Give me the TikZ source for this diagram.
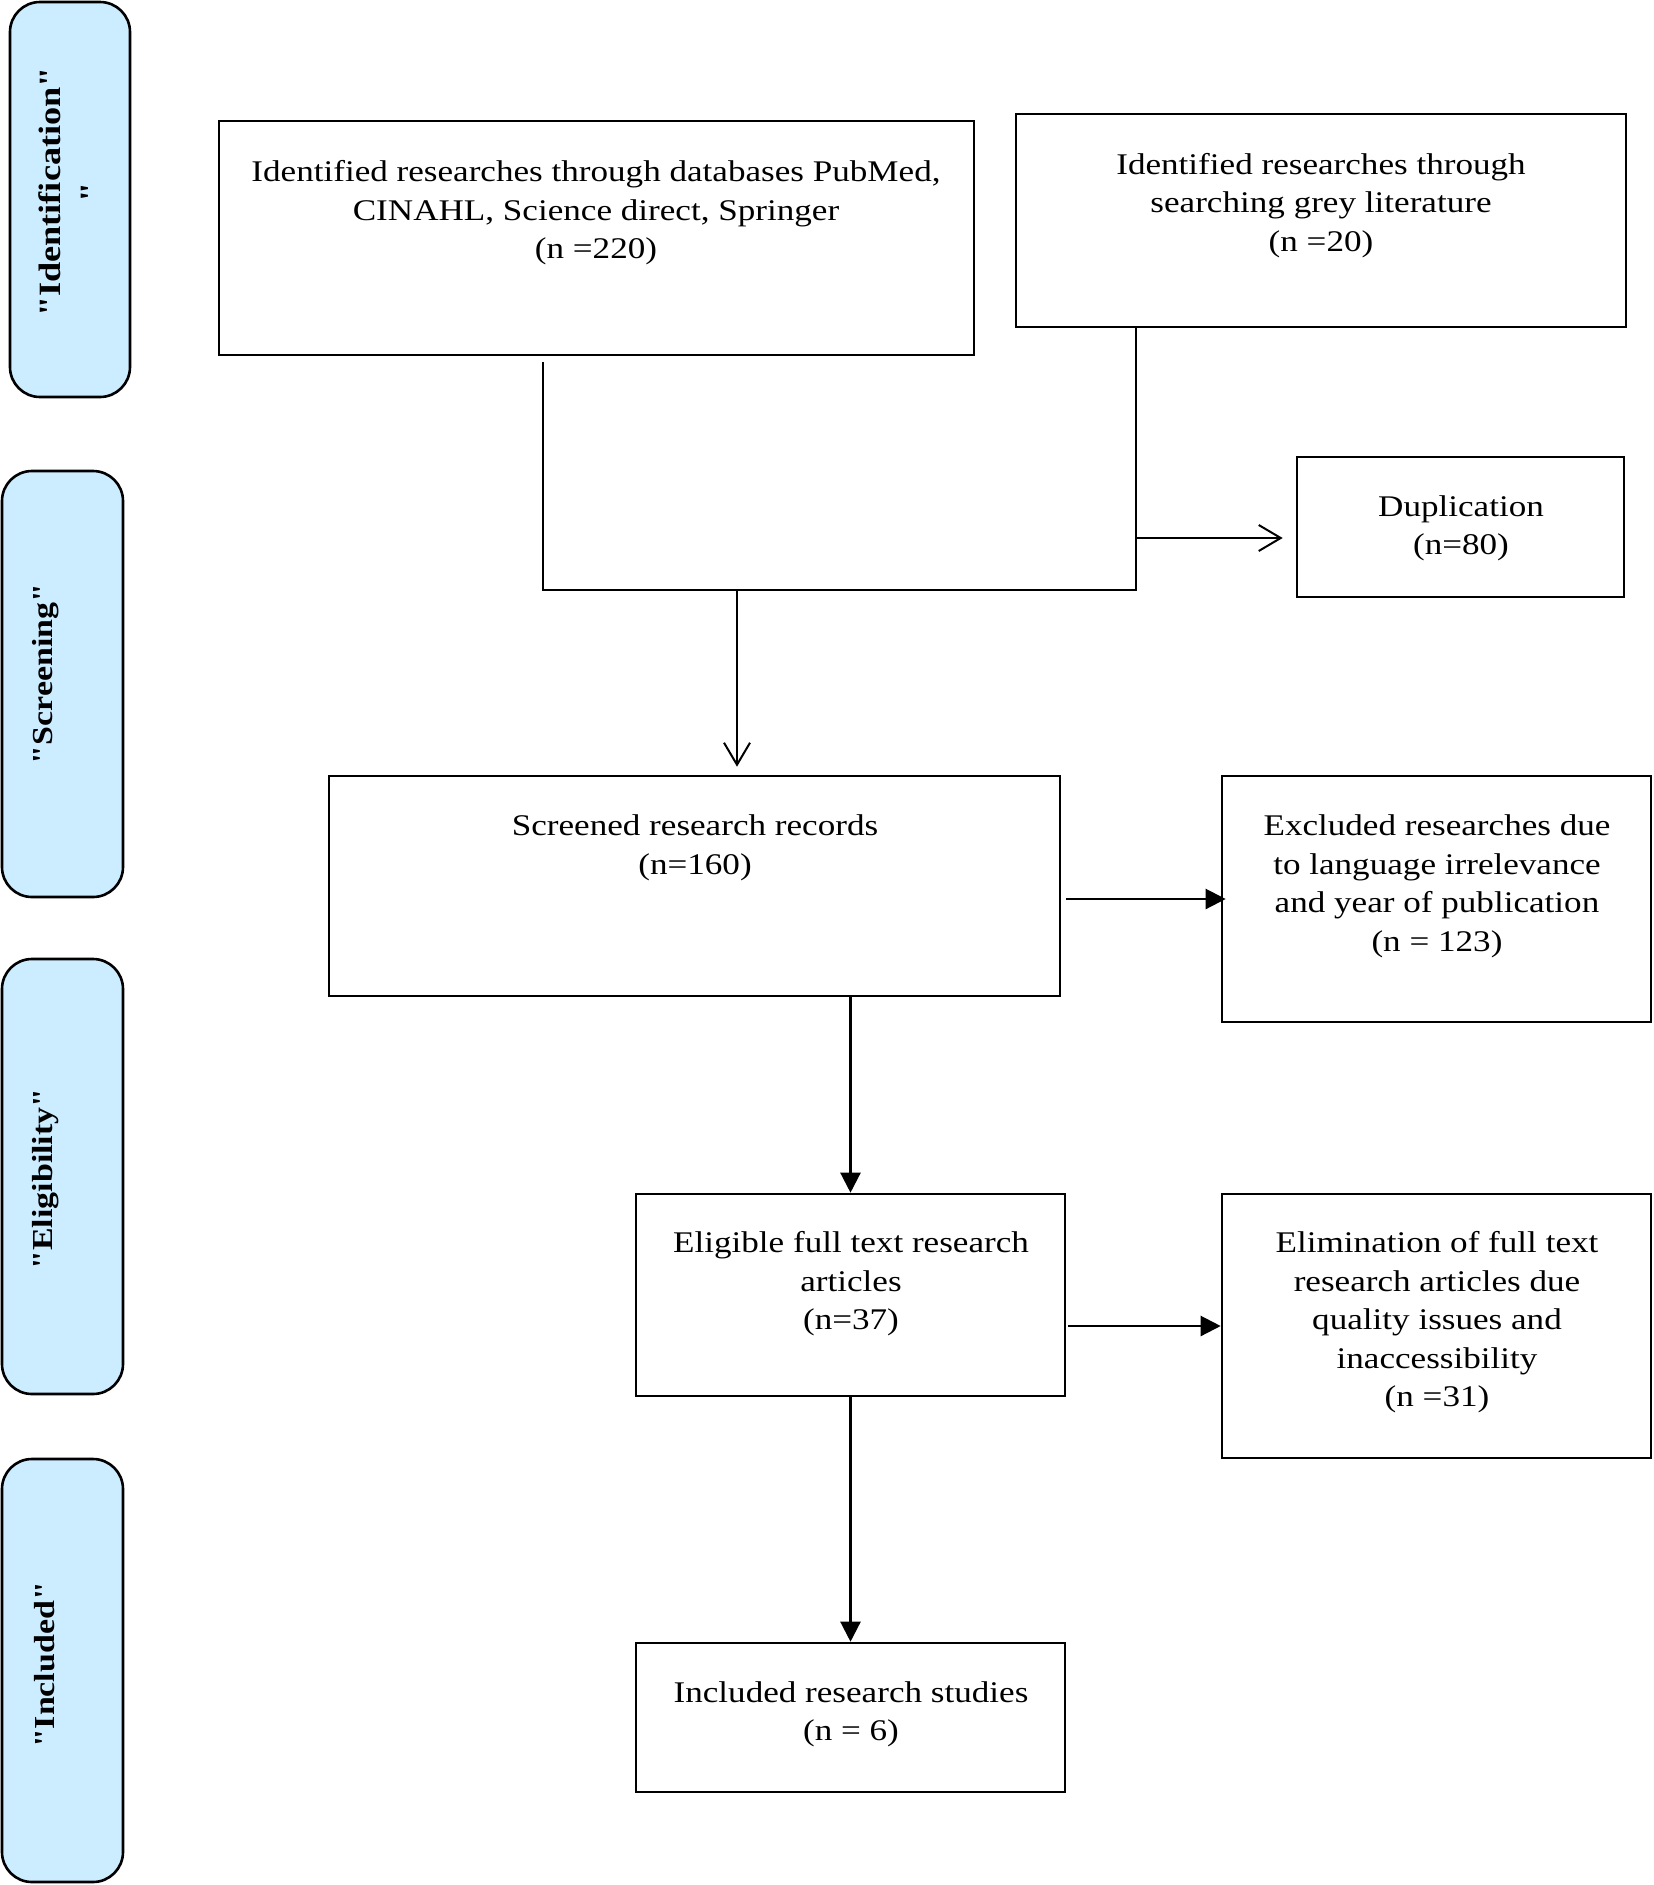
\documentclass[tikz,border=0pt]{standalone}
\usepackage{fontspec}
\setmainfont{Liberation Serif}[Ligatures=TeXOff, FakeStretch=1.17]
\usetikzlibrary{arrows.meta}
\definecolor{sidefill}{RGB}{204,236,255}
\begin{document}
\begin{tikzpicture}[x=1pt,y=-1pt,
  box/.style={draw, line width=2.6pt, inner sep=0pt},
  txt/.style={align=center, font=\fontsize{30}{38.5}\selectfont, inner sep=0pt},
  side/.style={draw, line width=2.6pt, fill=sidefill, rounded corners=30pt, inner sep=0pt},
  sidetxt/.style={rotate=90, font=\bfseries\fontsize{29}{41}\selectfont, inner sep=0pt, align=center},
  conn/.style={line width=2.3pt},
  openarr/.style={conn, -{Straight Barb[length=22pt,width=26pt,line width=2pt]}},
  solidarr/.style={conn, -{Triangle[length=20pt,width=20pt]}}]
\useasboundingbox (0,0) rectangle (1654,1885);

% side bars
\node[side, minimum width=120, minimum height=395] (s1) at (70,199.5) {};
\node[side, minimum width=121, minimum height=426] (s2) at (62.5,684) {};
\node[side, minimum width=121, minimum height=435] (s3) at (62.5,1176.5) {};
\node[side, minimum width=121, minimum height=423] (s4) at (62.5,1670.5) {};
\node[sidetxt, font=\bfseries\fontsize{31}{41}\selectfont] (l1) at (70,192) {"Identification"\\"};
\node[sidetxt] (l2) at (46,674) {"Screening"};
\node[sidetxt] (l3) at (46,1179) {"Eligibility"};
\node[sidetxt] (l4) at (45,1665) {"Included"};

% boxes
\node[box, minimum width=755, minimum height=234] (a) at (596.5,238) {};
\node[box, minimum width=610, minimum height=213] (b) at (1321,220.5) {};
\node[box, minimum width=327, minimum height=140] (dup) at (1460.5,527) {};
\node[box, minimum width=731, minimum height=220] (scr) at (694.5,886) {};
\node[box, minimum width=429, minimum height=246] (exc) at (1436.5,899) {};
\node[box, minimum width=429, minimum height=202] (eli) at (850.5,1295) {};
\node[box, minimum width=429, minimum height=264] (elim) at (1436.5,1326) {};
\node[box, minimum width=429, minimum height=149] (inc) at (850.5,1717.5) {};

% texts
\node[txt] (ta) at (596,213) {Identified researches through databases PubMed,\\CINAHL, Science direct, Springer\\(n =220)};
\node[txt] (tb) at (1321,205.5) {Identified researches through\\searching grey literature\\(n =20)};
\node[txt] (tdup) at (1461,528.5) {Duplication\\(n=80)};
\node[txt] (tscr) at (695,848) {Screened research records\\(n=160)};
\node[txt] (texc) at (1437,886.5) {Excluded researches due\\to language irrelevance\\and year of publication\\(n = 123)};
\node[txt] (teli) at (851,1284) {Eligible full text research\\articles\\(n=37)};
\node[txt] (telim) at (1437,1322.5) {Elimination of full text\\research articles due\\quality issues and\\inaccessibility\\(n =31)};
\node[txt] (tinc) at (851,1714.5) {Included research studies\\(n = 6)};

% connectors
\coordinate (j1) at (543,590);
\coordinate (j2) at (1136,590);
\coordinate (j3) at (1136,538);
\coordinate (j4) at (737,590);
\draw[conn] ([yshift=-6pt]a.south -| j1) -- (j1) -- (j2) -- (b.south -| j2);
\draw[openarr, shorten >=13pt] (j3) -- (dup.west |- j3);
\draw[openarr, shorten >=8pt] (j4) -- (scr.north -| j4);
\draw[solidarr] ([xshift=5pt]scr.east |- exc.west) -- ([xshift=5pt]exc.west);
\draw[solidarr] (scr.south -| eli.north) -- (eli.north);
\draw[solidarr] ([xshift=2pt]eli.east |- elim.west) -- (elim.west);
\draw[solidarr] (eli.south) -- (inc.north);
\end{tikzpicture}
\end{document}
